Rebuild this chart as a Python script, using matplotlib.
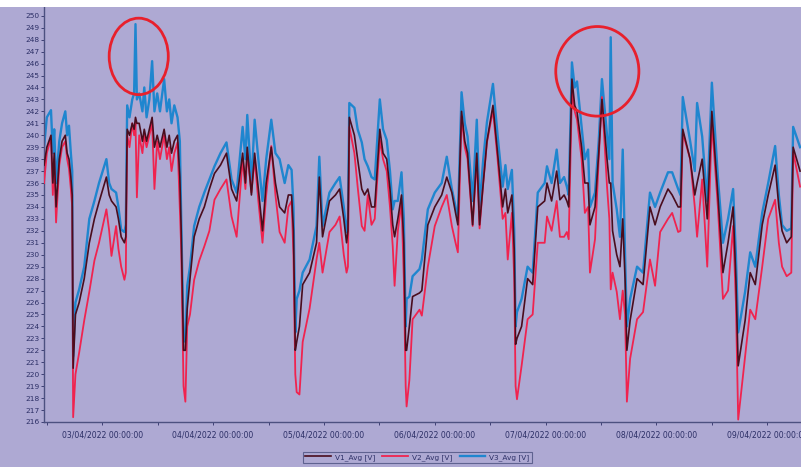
import pandas as pd
import numpy as np
import matplotlib
matplotlib.use('Agg')
import matplotlib.pyplot as plt
import matplotlib.dates as mdates
from matplotlib.patches import Ellipse, Rectangle

# hours since 02/04/2022 00:00, with the three phase averages [V]
hours = [11.4, 12.0, 12.9, 13.3, 13.6, 14.0, 14.7, 15.3, 16.0, 16.4, 16.8, 17.2, 17.5, 17.7,
         18.2, 19.0, 20.1, 21.2, 22.3, 23.3, 24.9, 25.5, 26.0, 27.0, 27.5, 28.1, 28.8, 29.1,
         29.4, 29.9, 30.5, 30.9, 31.2, 31.5, 32.0, 32.7, 33.1, 33.6, 34.2, 34.8, 35.3, 35.9,
         36.5, 37.4, 38.0, 38.5, 39.0, 39.6, 40.3, 40.8, 41.1, 41.6, 42.0, 42.4, 43.0, 43.9,
         45.0, 46.1, 47.2, 48.3, 49.6, 50.9, 52.0, 53.1, 54.4, 55.0, 55.4, 56.3, 57.0, 57.8,
         58.7, 59.5, 60.6, 61.5, 62.4, 63.5, 64.3, 65.0, 65.4, 65.8, 66.1, 66.7, 67.4, 68.9,
         70.4, 71.0, 71.7, 73.2, 74.5, 75.4, 76.3, 76.9, 77.2, 77.5, 78.6, 79.3, 80.2, 80.8,
         81.5, 82.3, 83.0, 84.1, 84.8, 85.6, 86.3, 86.9, 87.3, 88.0, 88.8, 89.3, 89.7, 89.9,
         90.5, 91.2, 92.7, 93.2, 94.5, 96.0, 97.5, 98.6, 99.7, 100.5, 101.0, 101.8, 102.5, 103.1,
         104.2, 105.1, 105.7, 106.5, 107.3, 108.6, 109.6, 110.7, 111.3, 111.8, 112.7, 113.2, 113.5, 113.8,
         114.8, 116.1, 117.2, 118.3, 119.8, 120.3, 121.3, 122.4, 123.1, 124.0, 124.6, 125.0, 125.7, 126.3,
         126.8, 127.8, 128.5, 129.2, 129.6, 130.7, 131.5, 132.2, 133.3, 133.8, 134.1, 134.5, 135.4, 136.1,
         136.7, 137.2, 137.6, 138.3, 139.8, 141.1, 142.6, 143.7, 144.8, 146.5, 147.4, 148.7, 149.2, 149.7,
         151.3, 152.3, 152.8, 153.9, 155.0, 156.0, 157.3, 158.4, 159.5, 160.6, 161.2, 161.7, 163.2, 164.3,
         165.4, 166.9, 168.2, 169.7, 170.5, 171.2, 172.2, 173.2, 173.6, 175.1]

v3 = [239.0, 241.5, 242.1, 238.5, 240.5, 236.0, 239.5, 241.0, 242.0, 240.0, 240.8, 238.5, 237.0, 221.5,
      226.0, 227.1, 229.0, 233.0, 234.5, 236.0, 238.0, 236.0, 235.5, 235.2, 234.0, 232.1, 231.9, 232.5,
      242.5, 241.5, 243.0, 243.5, 249.3, 243.0, 243.5, 242.0, 244.0, 241.5, 243.0, 246.2, 242.0, 243.5,
      242.0, 244.7, 242.0, 243.0, 241.0, 242.5, 241.5, 239.5, 233.0, 223.0, 222.7, 227.4, 229.0, 232.4,
      234.0, 235.2, 236.3, 237.4, 238.5, 239.4, 236.3, 235.2, 240.7, 238.0, 241.7, 236.0, 241.3, 238.0,
      234.5, 238.0, 241.3, 238.5, 238.0, 236.0, 237.5, 237.1, 234.0, 223.5, 226.3, 227.0, 228.5, 229.6,
      232.4, 238.2, 232.4, 235.2, 236.0, 236.5, 234.0, 231.9, 233.0, 242.7, 242.3, 240.5, 239.4, 238.0,
      237.4, 236.5, 236.3, 243.0, 240.5, 239.6, 237.0, 233.8, 234.5, 234.5, 236.9, 233.0, 224.0, 226.3,
      226.5, 228.2, 228.8, 229.6, 233.8, 235.2, 236.0, 238.2, 235.5, 234.0, 233.0, 243.6, 241.0, 239.9,
      234.5, 241.3, 234.0, 238.0, 241.1, 244.3, 240.0, 235.7, 237.5, 235.5, 237.1, 232.0, 224.0, 225.2,
      226.3, 229.0, 228.5, 235.2, 236.0, 237.4, 236.0, 238.8, 236.0, 236.5, 235.7, 235.0, 246.1, 244.0,
      244.5, 240.7, 238.0, 238.8, 234.0, 235.2, 239.5, 244.7, 240.0, 238.0, 248.2, 236.0, 233.8, 231.5,
      238.8, 230.0, 224.0, 226.3, 229.0, 228.5, 235.2, 234.0, 235.2, 236.9, 236.9, 235.5, 235.0, 243.2,
      239.5, 237.0, 242.7, 239.9, 234.5, 244.4, 236.5, 231.0, 233.0, 235.5, 230.0, 223.5, 226.9, 230.2,
      229.0, 233.5, 236.0, 239.1, 235.0, 232.5, 232.0, 232.2, 240.7, 239.0]

v1 = [237.5, 239.0, 240.0, 236.0, 238.5, 234.0, 238.0, 239.5, 240.0, 238.5, 238.0, 236.5, 235.0, 220.5,
      225.0, 226.0, 228.0, 231.0, 233.0, 234.4, 236.5, 235.0, 234.5, 234.0, 233.0, 231.5, 231.0, 231.5,
      240.5, 240.0, 241.0, 240.5, 241.5, 241.0, 241.0, 239.5, 240.5, 239.5, 240.5, 241.5, 239.0, 240.0,
      239.0, 240.5, 239.0, 240.0, 238.5, 239.5, 240.0, 236.5, 232.0, 222.0, 222.0, 225.5, 228.0, 231.5,
      233.0, 234.0, 235.5, 236.8, 237.5, 238.5, 235.5, 234.5, 238.5, 236.0, 239.0, 235.0, 238.5, 235.5,
      232.0, 236.0, 239.0, 236.0, 234.0, 233.5, 235.0, 235.0, 232.0, 222.0, 222.7, 224.0, 227.5, 228.5,
      231.0, 236.5, 231.5, 234.5, 235.0, 235.5, 233.0, 231.0, 232.0, 241.5, 240.0, 238.0, 235.5, 235.0,
      235.5, 234.0, 234.0, 240.5, 238.5, 238.0, 235.5, 232.5, 231.5, 233.0, 235.0, 231.0, 222.0, 222.0,
      224.0, 226.5, 226.8, 227.0, 232.5, 234.0, 235.0, 236.5, 235.2, 233.5, 232.5, 242.0, 239.5, 238.5,
      232.5, 238.5, 232.5, 236.0, 239.5, 242.5, 238.5, 234.0, 235.5, 233.5, 235.0, 230.5, 222.5, 223.0,
      224.0, 228.0, 227.5, 234.0, 234.5, 236.0, 234.5, 237.0, 234.6, 235.0, 234.5, 234.0, 244.7, 242.5,
      242.0, 239.0, 236.0, 236.0, 232.5, 234.0, 238.5, 243.0, 238.0, 236.0, 236.0, 232.0, 230.0, 229.0,
      233.0, 228.0, 222.0, 224.5, 228.0, 227.5, 234.0, 232.5, 234.0, 235.5, 235.0, 234.0, 234.0, 240.5,
      238.0, 235.0, 236.0, 238.0, 233.0, 242.0, 235.0, 228.5, 231.0, 234.0, 228.0, 220.7, 224.5, 228.5,
      227.5, 232.5, 235.0, 237.5, 234.0, 232.0, 231.0, 231.5, 239.0, 237.0]

v2 = [236.0, 238.5, 239.8, 235.0, 238.0, 232.7, 237.5, 239.0, 239.5, 238.0, 237.2, 235.5, 234.0, 216.4,
      220.0, 221.8, 224.5, 226.9, 229.5, 231.0, 233.8, 232.0, 229.9, 232.4, 230.5, 229.0, 227.9, 228.5,
      240.0, 239.0, 241.0, 240.0, 241.0, 234.8, 240.0, 238.5, 240.0, 239.0, 240.0, 241.0, 235.5, 239.5,
      238.0, 240.0, 238.0, 239.0, 237.0, 238.5, 239.4, 234.0, 230.5, 219.0, 217.7, 224.0, 225.0, 227.9,
      229.5, 230.7, 232.0, 234.6, 235.5, 236.3, 233.2, 231.5, 238.0, 235.5, 238.5, 235.2, 238.0, 234.5,
      231.0, 235.0, 239.1, 235.0, 231.9, 231.0, 234.0, 234.5, 230.0, 220.0, 218.5, 218.3, 222.7, 225.5,
      229.6, 231.0, 228.5, 231.9, 232.5, 233.2, 230.0, 228.5, 229.0, 240.7, 238.5, 235.7, 232.4, 232.0,
      235.0, 232.5, 233.0, 239.6, 238.0, 237.0, 234.0, 230.7, 227.4, 232.0, 234.4, 228.0, 219.0, 217.3,
      219.5, 224.6, 225.4, 224.9, 229.0, 232.4, 234.0, 235.0, 232.4, 231.0, 230.2, 241.6, 239.0, 238.0,
      232.4, 238.0, 232.2, 236.0, 239.4, 242.1, 238.0, 233.0, 233.5, 229.6, 233.5, 228.0, 219.0, 217.9,
      220.7, 224.6, 225.0, 231.0, 231.0, 233.2, 232.0, 234.5, 231.5, 231.5, 231.9, 231.3, 243.6, 242.0,
      241.3, 238.0, 233.5, 234.0, 228.5, 231.3, 238.0, 243.2, 235.7, 233.0, 227.1, 228.5, 226.9, 224.6,
      227.0, 225.0, 217.7, 221.3, 224.6, 225.2, 229.6, 227.4, 231.9, 233.0, 233.5, 231.9, 232.0, 240.2,
      238.0, 234.0, 231.5, 236.3, 229.0, 241.1, 234.0, 226.3, 227.0, 232.4, 226.0, 216.2, 221.5, 225.4,
      224.6, 229.0, 233.0, 234.6, 231.0, 229.0, 228.2, 228.5, 238.6, 235.7]

labels = ['V1_Avg [V]', 'V2_Avg [V]', 'V3_Avg [V]']
colors = ['#4a0d1e', '#f0234f', '#1f86cf']

bg = '#aea9d3'
ink = '#2c2f66'

t0 = pd.Timestamp('2022-04-02 00:00:00')
times = t0 + pd.to_timedelta(hours, unit='h')

fig = plt.figure(figsize=(8.01, 4.67), dpi=100, facecolor=bg)
ax = fig.add_axes([0.055, 0.0964, 0.945, 0.889])
ax.set_facecolor(bg)

# draw order: blue at back, then red, dark on top
ax.plot(times, v3, color=colors[2], lw=1.7, zorder=2, label=labels[2])
ax.plot(times, v2, color=colors[1], lw=1.3, zorder=3, label=labels[1])
ax.plot(times, v1, color=colors[0], lw=1.2, zorder=4, label=labels[0])

ax.set_xlim(t0 + pd.Timedelta(hours=11.4), t0 + pd.Timedelta(hours=175.3))
ax.set_ylim(216, 250.75)
ax.set_yticks(np.arange(216, 251, 1))

ax.xaxis.set_major_locator(mdates.DayLocator())
ax.xaxis.set_minor_locator(mdates.HourLocator(byhour=12))
ax.xaxis.set_major_formatter(mdates.DateFormatter('%d/%m/%Y %H:%M:%S'))

ax.tick_params(axis='y', labelsize=5.3, colors=ink, length=2, width=0.6, pad=1.5)
ax.tick_params(axis='x', which='both', labelsize=5.6, colors=ink, length=2, width=0.6, pad=4)

for s in ['top', 'right']:
    ax.spines[s].set_visible(False)
for s in ['left', 'bottom']:
    ax.spines[s].set_color('#4c5080')
    ax.spines[s].set_linewidth(1.0)

# red annotation circles around the spikes
for cx, cy, w, h in [(31.9, 246.6, 12.8, 6.4), (131.2, 245.35, 18.0, 7.5)]:
    c = mdates.date2num(t0 + pd.Timedelta(hours=cx))
    e = Ellipse((c, cy), w / 24.0, h, fill=False, edgecolor='#e8202c', lw=2.0, zorder=6)
    ax.add_patch(e)

# white strip at the top of the image
fig.patches.append(Rectangle((0, 0.985), 1, 0.015, transform=fig.transFigure,
                             facecolor='white', edgecolor='none', zorder=10))

handles, _ = ax.get_legend_handles_labels()
handles = handles[::-1]
leg = fig.legend(handles, labels, loc='center', bbox_to_anchor=(0.521, 0.021), ncol=3,
                 fontsize=5.3, frameon=True, fancybox=False, handlelength=3.5,
                 handletextpad=0.5, columnspacing=1.0, borderpad=0.3)
leg.get_frame().set_facecolor(bg)
leg.get_frame().set_edgecolor('#4c5080')
leg.get_frame().set_linewidth(0.8)
for t in leg.get_texts():
    t.set_color(ink)

fig.savefig('out.png', dpi=100, facecolor=bg)
plt.close()
